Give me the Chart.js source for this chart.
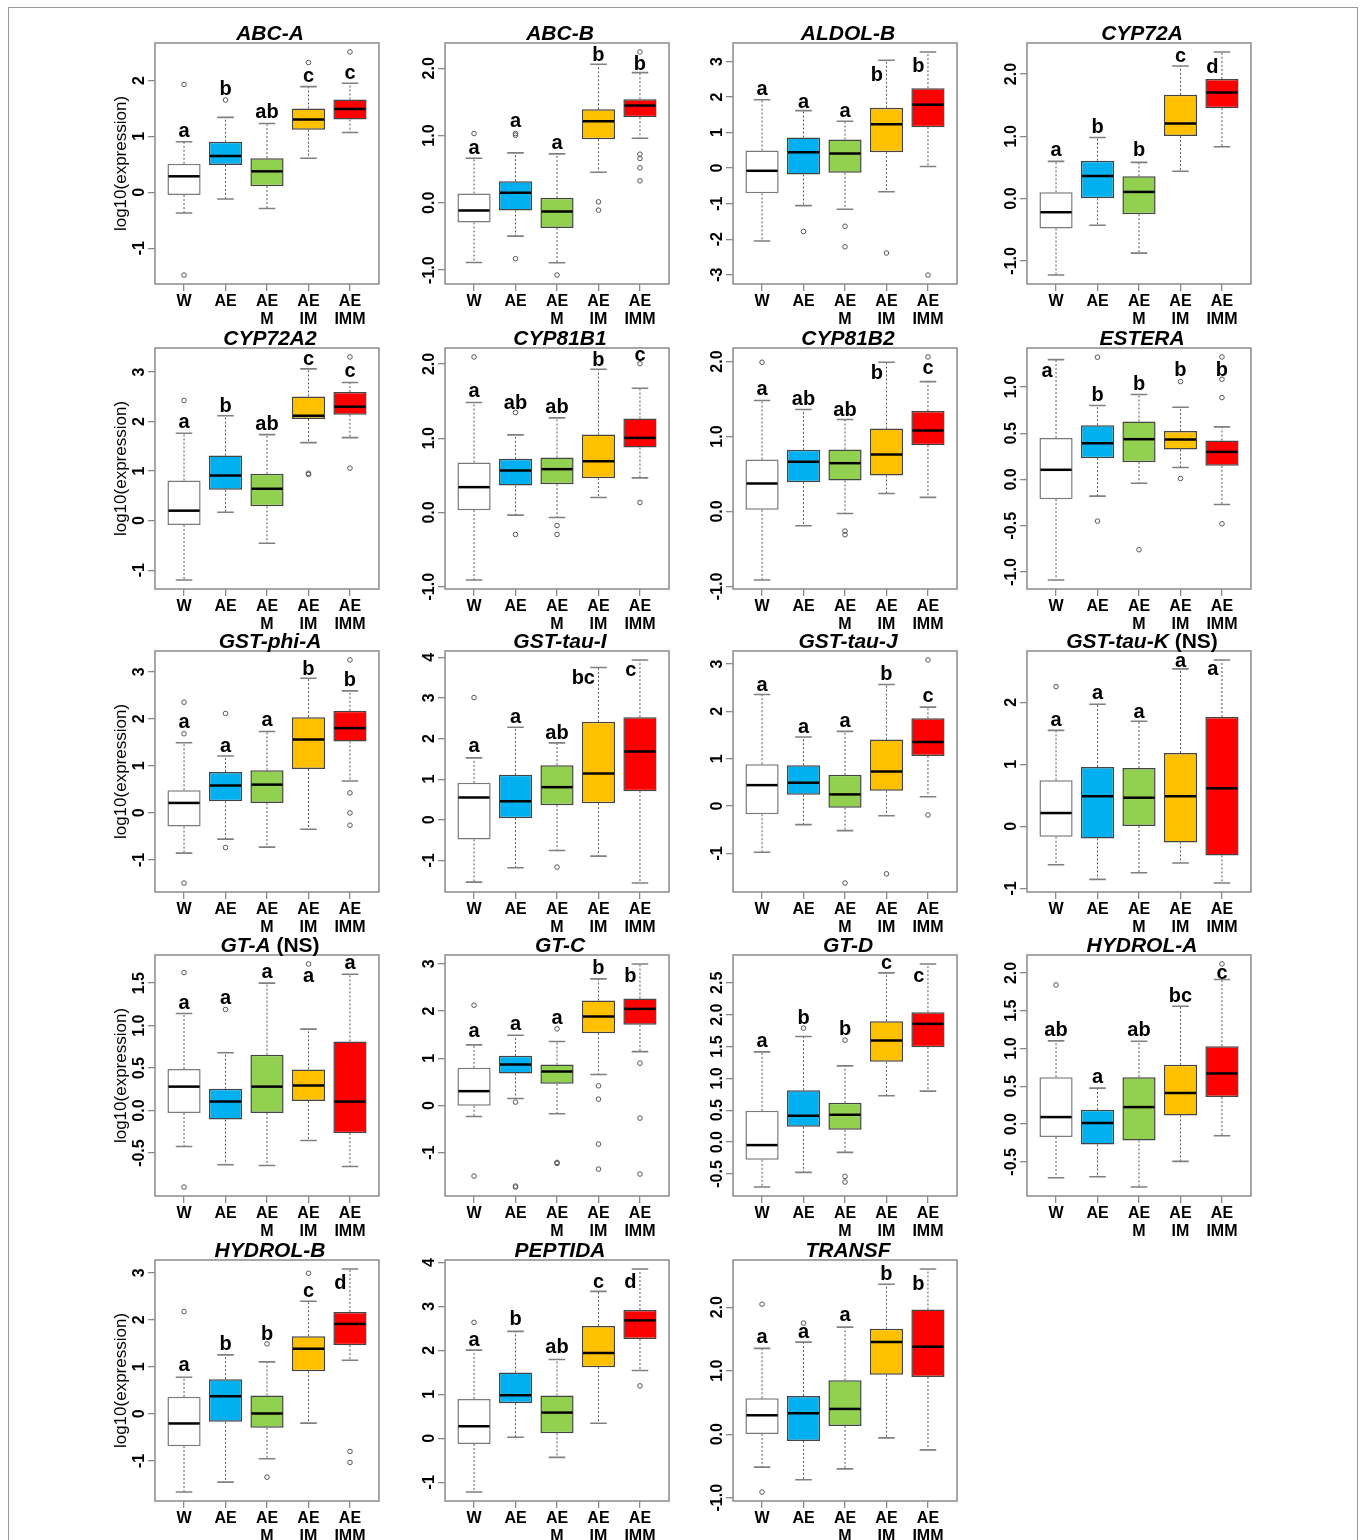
<!DOCTYPE html>
<html>
<head>
<meta charset="utf-8">
<script src="https://cdn.jsdelivr.net/npm/chart.js@4.4.1/dist/chart.umd.min.js"></script>
<style>
  body { margin: 0; background: #fff; }
  #fig { position: relative; width: 1360px; height: 1540px; overflow: hidden; background: #fff; }
  #frame { position: absolute; left: 8px; top: 7px; width: 1348px; height: 1560px; border: 1px solid #999; }
</style>
</head>
<body>
<div id="fig"><div id="frame"></div></div>
<script>
// ---- data ----
const groups = [['W'], ['AE'], ['AE', 'M'], ['AE', 'IM'], ['AE', 'IMM']];
const genes = ['ABC-A', 'ABC-B', 'ALDOL-B', 'CYP72A', 'CYP72A2', 'CYP81B1', 'CYP81B2', 'ESTERA',
  'GST-phi-A', 'GST-tau-I', 'GST-tau-J', 'GST-tau-K (NS)', 'GT-A (NS)', 'GT-C', 'GT-D', 'HYDROL-A',
  'HYDROL-B', 'PEPTIDA', 'TRANSF'];

const whiskerLow = [
  [-0.37, -0.12, -0.29, 0.61, 1.07],
  [-0.886, -0.495, -0.891, 0.455, 0.96],
  [-2.05, -1.056, -1.159, -0.664, 0.047],
  [-1.228, -0.427, -0.876, 0.438, 0.833],
  [-1.2, 0.168, -0.456, 1.575, 1.676],
  [-0.91, -0.036, -0.067, 0.202, 0.466],
  [-0.916, -0.191, -0.027, 0.24, 0.187],
  [-1.088, -0.18, -0.04, 0.13, -0.27],
  [-0.855, -0.558, -0.728, -0.346, 0.678],
  [-1.533, -1.18, -0.754, -0.893, -1.557],
  [-0.975, -0.393, -0.519, -0.204, 0.196],
  [-0.618, -0.855, -0.747, -0.591, -0.914],
  [-0.423, -0.638, -0.646, -0.352, -0.658],
  [-0.233, 0.148, -0.176, 0.656, 1.141],
  [-0.706, -0.476, -0.162, 0.727, 0.8],
  [-0.709, -0.696, -0.833, -0.493, -0.154],
  [-1.664, -1.452, -0.956, -0.198, 1.14],
  [-1.223, 0.023, -0.433, 0.342, 1.543],
  [-0.518, -0.717, -0.545, -0.058, -0.246]
];
const boxLow = [
  [-0.05, 0.49, 0.11, 1.12, 1.30],
  [-0.292, -0.114, -0.376, 0.946, 1.272],
  [-0.71, -0.178, -0.131, 0.449, 1.15],
  [-0.48, 0.005, -0.251, 1.004, 1.452],
  [-0.087, 0.623, 0.288, 2.05, 2.138],
  [0.031, 0.363, 0.381, 0.462, 0.874],
  [0.022, 0.391, 0.413, 0.48, 0.884],
  [-0.213, 0.231, 0.187, 0.324, 0.148],
  [-0.29, 0.247, 0.212, 0.933, 1.519],
  [-0.484, 0.041, 0.361, 0.41, 0.705],
  [-0.175, 0.239, -0.035, 0.323, 1.06],
  [-0.167, -0.194, 0.005, -0.258, -0.468],
  [-0.027, -0.106, -0.027, 0.114, -0.266],
  [-0.007, 0.677, 0.458, 1.53, 1.707],
  [-0.277, 0.24, 0.193, 1.26, 1.49],
  [-0.172, -0.269, -0.216, 0.115, 0.357],
  [-0.687, -0.17, -0.297, 0.907, 1.459],
  [-0.129, 0.798, 0.114, 1.619, 2.257],
  [0.005, -0.105, 0.131, 0.937, 0.901]
];
const medians = [
  [0.286, 0.65, 0.375, 1.30, 1.49],
  [-0.114, 0.149, -0.129, 1.213, 1.446],
  [-0.075, 0.449, 0.411, 1.234, 1.785],
  [-0.219, 0.363, 0.107, 1.207, 1.703],
  [0.201, 0.912, 0.643, 2.118, 2.299],
  [0.341, 0.565, 0.583, 0.691, 1.004],
  [0.373, 0.662, 0.644, 0.76, 1.08],
  [0.105, 0.393, 0.436, 0.432, 0.299],
  [0.212, 0.58, 0.601, 1.562, 1.802],
  [0.549, 0.459, 0.803, 1.139, 1.68],
  [0.442, 0.491, 0.246, 0.73, 1.354],
  [0.215, 0.484, 0.462, 0.484, 0.613],
  [0.282, 0.106, 0.282, 0.294, 0.106],
  [0.303, 0.867, 0.719, 1.883, 2.045],
  [-0.047, 0.413, 0.429, 1.594, 1.856],
  [0.093, 0.013, 0.225, 0.41, 0.67],
  [-0.205, 0.375, 0.007, 1.381, 1.912],
  [0.274, 0.98, 0.585, 1.938, 2.682],
  [0.298, 0.33, 0.398, 1.45, 1.377]
];
const boxHigh = [
  [0.51, 0.905, 0.61, 1.5, 1.66],
  [0.139, 0.322, 0.074, 1.39, 1.54],
  [0.495, 0.86, 0.804, 1.70, 2.25],
  [0.10, 0.609, 0.358, 1.666, 1.922],
  [0.811, 1.314, 0.945, 2.507, 2.594],
  [0.673, 0.722, 0.74, 1.049, 1.265],
  [0.693, 0.822, 0.827, 1.107, 1.342],
  [0.45, 0.587, 0.627, 0.526, 0.422],
  [0.481, 0.869, 0.905, 2.035, 2.17],
  [0.91, 1.107, 1.344, 2.41, 2.525],
  [0.884, 0.863, 0.66, 1.404, 1.853],
  [0.742, 0.957, 0.941, 1.183, 1.763],
  [0.489, 0.258, 0.658, 0.485, 0.814],
  [0.797, 1.051, 0.867, 2.221, 2.264],
  [0.491, 0.815, 0.617, 1.898, 2.039],
  [0.621, 0.189, 0.621, 0.784, 1.031],
  [0.361, 0.737, 0.39, 1.65, 2.167],
  [0.897, 1.497, 0.973, 2.553, 2.918],
  [0.565, 0.602, 0.848, 1.66, 1.963]
];
const whiskerHigh = [
  [0.905, 1.34, 1.23, 1.89, 1.95],
  [0.663, 0.743, 0.728, 2.06, 1.936],
  [1.925, 1.617, 1.318, 3.037, 3.27],
  [0.598, 0.982, 0.582, 2.13, 2.355],
  [1.763, 2.118, 1.736, 3.063, 2.788],
  [1.48, 1.045, 1.274, 1.928, 1.673],
  [1.48, 1.36, 1.227, 1.991, 1.733],
  [1.297, 0.8, 0.919, 0.782, 0.569],
  [1.491, 1.208, 1.731, 2.862, 2.594],
  [1.525, 2.279, 1.893, 3.746, 3.934],
  [2.358, 1.46, 1.579, 2.568, 2.091],
  [1.548, 1.968, 1.694, 2.538, 2.683],
  [1.143, 0.681, 1.5, 0.959, 1.605],
  [1.283, 1.488, 1.354, 2.68, 2.997],
  [1.417, 1.657, 1.197, 2.656, 2.797],
  [1.101, 0.476, 1.097, 1.559, 1.912],
  [0.779, 1.254, 1.105, 2.394, 3.081],
  [2.006, 2.432, 1.793, 3.343, 3.853],
  [1.351, 1.45, 1.686, 2.361, 2.602]
];
const outliers = [
  [[1.93, -1.48], [1.65], [], [2.32], [2.51]],
  [[1.03], [1.03, 1.005, -0.83], [-1.074], [0.015, -0.109], [2.243, 0.723, 0.658, 0.52, 0.327]],
  [[], [-1.785], [-1.636, -2.215], [-2.39], [-3.01]],
  [[], [], [], [], []],
  [[2.426], [], [], [0.958, 0.932], [3.304, 1.059]],
  [[2.094], [1.345, -0.296], [-0.175, -0.296], [], [2.004, 0.135]],
  [[1.991], [], [-0.262, -0.311], [], [2.062]],
  [[], [1.323, -0.45], [-0.76], [1.059, 0.011], [1.326, 1.085, 0.886, -0.479]],
  [[2.353, 1.682, -1.491], [2.113, -0.735], [], [], [3.251, 0.424, 0.0, -0.261]],
  [[3.008], [], [-1.164], [], []],
  [[], [], [-1.628], [-1.432], [3.088, -0.189]],
  [[2.253], [], [], [], []],
  [[1.624, -0.9], [1.19], [], [1.726], []],
  [[2.123, -1.495], [0.071, -1.707, -1.728], [1.622, -1.206, -1.227], [0.416, 0.134, -0.818, -1.347], [0.896, -0.268, -1.453]],
  [[], [1.788], [1.6, -0.538, -0.627], [], []],
  [[1.841], [], [], [], [2.119]],
  [[2.174], [], [1.487, -1.346], [2.989], [-0.8, -1.034]],
  [[2.637], [], [], [], [1.193]],
  [[2.047, -0.911], [1.749], [], [], []]
];
const letters = [
  ['a', 'b', 'ab', 'c', 'c'], ['a', 'a', 'a', 'b', 'b'], ['a', 'a', 'a', 'b', 'b'], ['a', 'b', 'b', 'c', 'd'],
  ['a', 'b', 'ab', 'c', 'c'], ['a', 'ab', 'ab', 'b', 'c'], ['a', 'ab', 'ab', 'b', 'c'], ['a', 'b', 'b', 'b', 'b'],
  ['a', 'a', 'a', 'b', 'b'], ['a', 'a', 'ab', 'bc', 'c'], ['a', 'a', 'a', 'b', 'c'], ['a', 'a', 'a', 'a', 'a'],
  ['a', 'a', 'a', 'a', 'a'], ['a', 'a', 'a', 'b', 'b'], ['a', 'b', 'b', 'c', 'c'], ['ab', 'a', 'ab', 'bc', 'c'],
  ['a', 'b', 'b', 'c', 'd'], ['a', 'b', 'ab', 'c', 'd'], ['a', 'a', 'a', 'b', 'b']
];
const letterY = [
  [0.99, 1.74, 1.33, 1.98, 2.02],
  [0.72, 1.12, 0.80, 2.11, 1.98],
  [2.05, 1.70, 1.44, 2.44, 2.70],
  [0.69, 1.06, 0.68, 2.19, 2.02],
  [1.86, 2.2, 1.83, 3.14, 2.9],
  [1.55, 1.39, 1.34, 1.97, 2.04],
  [1.55, 1.42, 1.28, 1.77, 1.84],
  [1.11, 0.85, 0.966, 1.12, 1.12],
  [1.81, 1.30, 1.84, 2.93, 2.69],
  [1.67, 2.37, 1.99, 3.33, 3.53],
  [2.44, 1.55, 1.68, 2.66, 2.2],
  [1.61, 2.05, 1.75, 2.57, 2.44],
  [1.20, 1.25, 1.56, 1.51, 1.67],
  [1.45, 1.59, 1.73, 2.79, 2.61],
  [1.5, 1.86, 1.68, 2.72, 2.52],
  [1.17, 0.54, 1.17, 1.62, 1.92],
  [0.91, 1.35, 1.57, 2.49, 2.66],
  [2.11, 2.57, 1.95, 3.43, 3.43],
  [1.43, 1.51, 1.79, 2.43, 2.27]
];
const yTickLabels = [
  ['-1', '0', '1', '2'],
  ['-1.0', '0.0', '1.0', '2.0'],
  ['-3', '-2', '-1', '0', '1', '2', '3'],
  ['-1.0', '0.0', '1.0', '2.0'],
  ['-1', '0', '1', '2', '3'],
  ['-1.0', '0.0', '1.0', '2.0'],
  ['-1.0', '0.0', '1.0', '2.0'],
  ['-1.0', '-0.5', '0.0', '0.5', '1.0'],
  ['-1', '0', '1', '2', '3'],
  ['-1', '0', '1', '2', '3', '4'],
  ['-1', '0', '1', '2', '3'],
  ['-1', '0', '1', '2'],
  ['-0.5', '0.0', '0.5', '1.0', '1.5'],
  ['-1', '0', '1', '2', '3'],
  ['-0.5', '0.0', '0.5', '1.0', '1.5', '2.0', '2.5'],
  ['-0.5', '0.0', '0.5', '1.0', '1.5', '2.0'],
  ['-1', '0', '1', '2', '3'],
  ['-1', '0', '1', '2', '3', '4'],
  ['-1.0', '0.0', '1.0', '2.0']
];

// ---- look ----
const fills = ['#FFFFFF', '#00B0F0', '#92D050', '#FFC000', '#FF0000'];
const edges = ['#7a7a7a', '#444444', '#444444', '#444444', '#444444'];
const grey = '#8a8a8a';
const FONT = '"Liberation Sans", Arial, sans-serif';
Chart.defaults.font.family = FONT;

const colLeft = [155, 445, 733, 1027];
const rowTop = [43, 348, 651, 955, 1260];
const plotW = 224, plotH = 241;
const padL = 78, padT = 36, padR = 6, padB = 42;

const boxPlot = {
  id: 'boxPlot',
  afterDatasetsDraw(chart, args, opts) {
    const i = opts.panel;
    const { ctx, chartArea: a, scales: { x, y } } = chart;
    const bars = chart.getDatasetMeta(0).data;
    ctx.save();
    ctx.strokeStyle = grey;
    ctx.lineWidth = 1.5;
    ctx.strokeRect(a.left, a.top, a.width, a.height);

    bars.forEach((bar, j) => {
      const cx = x.getPixelForValue(j + 1);
      const hw = bar.width / 2;
      const yHi = y.getPixelForValue(whiskerHigh[i][j]);
      const yLo = y.getPixelForValue(whiskerLow[i][j]);
      const yQ3 = y.getPixelForValue(boxHigh[i][j]);
      const yQ1 = y.getPixelForValue(boxLow[i][j]);
      const yMed = y.getPixelForValue(medians[i][j]);
      // whiskers
      ctx.setLineDash([2, 2]);
      ctx.strokeStyle = '#555';
      ctx.lineWidth = 1;
      ctx.beginPath();
      ctx.moveTo(cx, yQ3); ctx.lineTo(cx, yHi);
      ctx.moveTo(cx, yQ1); ctx.lineTo(cx, yLo);
      ctx.stroke();
      ctx.setLineDash([]);
      // caps
      ctx.strokeStyle = '#808080';
      ctx.lineWidth = 1.6;
      ctx.beginPath();
      ctx.moveTo(cx - hw / 2, yHi); ctx.lineTo(cx + hw / 2, yHi);
      ctx.moveTo(cx - hw / 2, yLo); ctx.lineTo(cx + hw / 2, yLo);
      ctx.stroke();
      // median
      ctx.strokeStyle = '#000';
      ctx.lineWidth = 2.5;
      ctx.beginPath();
      ctx.moveTo(cx - hw + 1, yMed); ctx.lineTo(cx + hw - 1, yMed);
      ctx.stroke();
      // significance letter
      const ly = letterY[i][j];
      ctx.fillStyle = '#000';
      ctx.font = 'bold 20px ' + FONT;
      ctx.textBaseline = 'alphabetic';
      if (ly < whiskerHigh[i][j]) {
        ctx.textAlign = 'right';
        ctx.fillText(letters[i][j], cx - 3.5, y.getPixelForValue(ly));
      } else {
        ctx.textAlign = 'center';
        ctx.fillText(letters[i][j], cx, y.getPixelForValue(ly));
      }
    });
    ctx.restore();
  },
  afterDraw(chart, args, opts) {
    const i = opts.panel;
    const { ctx, chartArea: a, scales: { y } } = chart;
    ctx.save();
    ctx.fillStyle = '#000';
    // y tick labels, parallel to the axis
    ctx.font = 'bold 16px ' + FONT;
    ctx.textAlign = 'center';
    ctx.textBaseline = 'middle';
    yTickLabels[i].forEach(t => {
      ctx.save();
      ctx.translate(a.left - 15, y.getPixelForValue(Number(t)));
      ctx.rotate(-Math.PI / 2);
      ctx.fillText(t, 0, 0);
      ctx.restore();
    });
    // y axis title on the first column
    if (i % 4 === 0) {
      ctx.save();
      ctx.font = '17px ' + FONT;
      ctx.translate(a.left - 34, (a.top + a.bottom) / 2);
      ctx.rotate(-Math.PI / 2);
      ctx.fillText('log10(expression)', 0, 0);
      ctx.restore();
    }
    // panel title: gene name italic, "(NS)" upright
    const parts = genes[i].split(' ');
    const main = parts[0], tail = parts[1] ? ' ' + parts[1] : '';
    const fMain = 'italic bold 21px ' + FONT, fTail = 'bold 21px ' + FONT;
    ctx.font = fMain; const w1 = ctx.measureText(main).width;
    ctx.font = fTail; const w2 = tail ? ctx.measureText(tail).width : 0;
    let tx = (a.left + a.right) / 2 + 3 - (w1 + w2) / 2;
    const ty = a.top - 3;
    ctx.textAlign = 'left';
    ctx.textBaseline = 'alphabetic';
    ctx.font = fMain; ctx.fillText(main, tx, ty);
    if (tail) { ctx.font = fTail; ctx.fillText(tail, tx + w1, ty); }
    ctx.restore();
  }
};

const fig = document.getElementById('fig');

genes.forEach((gene, i) => {
  const col = i % 4, row = Math.floor(i / 4);
  const cv = document.createElement('canvas');
  cv.width = padL + plotW + padR;
  cv.height = padT + plotH + padB;
  cv.style.position = 'absolute';
  cv.style.left = (colLeft[col] - padL) + 'px';
  cv.style.top = (rowTop[row] - padT) + 'px';
  fig.appendChild(cv);

  const all = [].concat(whiskerLow[i], whiskerHigh[i], ...outliers[i]);
  const lo = Math.min(...all), hi = Math.max(...all), ext = 0.04 * (hi - lo);
  const outPts = [];
  outliers[i].forEach((list, j) => list.forEach(v => outPts.push({ x: j + 1, y: v })));

  new Chart(cv, {
    type: 'bar',
    data: {
      datasets: [
        {
          data: groups.map((g, j) => ({ x: j + 1, y: [boxLow[i][j], boxHigh[i][j]] })),
          backgroundColor: fills,
          borderColor: edges,
          borderWidth: 1.5,
          borderSkipped: false,
          categoryPercentage: 0.8,
          barPercentage: 1
        },
        {
          type: 'scatter',
          data: outPts,
          pointStyle: 'circle',
          pointRadius: 2.3,
          backgroundColor: 'rgba(0,0,0,0)',
          borderColor: '#555',
          borderWidth: 1
        }
      ]
    },
    options: {
      responsive: false,
      animation: false,
      layout: { padding: { left: padL - 7, top: padT, right: padR, bottom: 0 } },
      plugins: { legend: { display: false }, tooltip: { enabled: false }, boxPlot: { panel: i } },
      scales: {
        x: {
          type: 'linear', min: 0.3, max: 5.7, offset: false,
          grid: { drawOnChartArea: false, offset: false, tickLength: 7, color: grey, lineWidth: 1.3 },
          border: { display: false },
          afterBuildTicks: s => { s.ticks = groups.map((g, j) => ({ value: j + 1 })); },
          afterFit: s => { s.height = padB; },
          ticks: {
            autoSkip: false, maxRotation: 0, minRotation: 0, padding: 2, color: '#000',
            font: { size: 16, weight: 'bold', lineHeight: 1.1 },
            callback: v => groups[v - 1]
          }
        },
        y: {
          type: 'linear', min: lo - ext, max: hi + ext,
          grid: { drawOnChartArea: false, tickLength: 7, color: grey, lineWidth: 1.3 },
          border: { display: false },
          afterBuildTicks: s => { s.ticks = yTickLabels[i].map(t => ({ value: Number(t) })); },
          afterFit: s => { s.width = 7; },
          ticks: { display: false }
        }
      }
    },
    plugins: [boxPlot]
  });
});
</script>
</body>
</html>
